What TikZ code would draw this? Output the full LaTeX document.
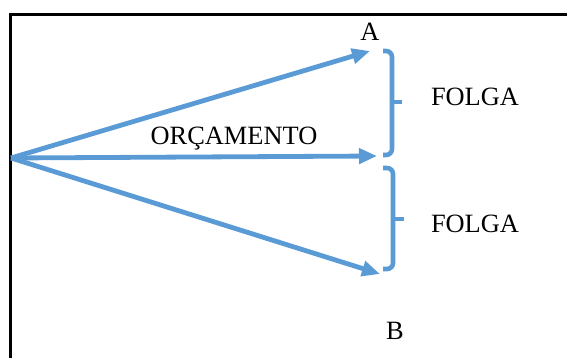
\documentclass[tikz,border=0pt]{standalone}
\usepackage{fontspec}
\setmainfont{Liberation Serif}
\usetikzlibrary{arrows.meta}

\begin{document}
\begin{tikzpicture}[x=0.5pt, y=-0.5pt,
    framestyle/.style={line width=1.5pt, black},
    arrowstyle/.style={-{Triangle[length=9pt, width=7.5pt]}, line width=2.4pt, budget},
    bracestyle/.style={line width=2.3pt, budget, rounded corners=3pt},
    labelstyle/.style={font=\fontsize{13.2}{15}\selectfont, inner sep=0pt}]
  \definecolor{budget}{RGB}{91,155,213}
  \useasboundingbox (0,0) rectangle (567,358);
  % frame
  \draw[framestyle] (10,358) -- (10,15) -- (567,15);
  % vectors
  \coordinate (O) at (11,158);
  \coordinate (PA) at (370,51);
  \coordinate (PM) at (377,156);
  \coordinate (PB) at (380,274);
  \draw[arrowstyle] (O) -- (PA);
  \draw[arrowstyle] (O) -- (PM);
  \draw[arrowstyle] (O) -- (PB);
  % braces
  \coordinate (U1) at (383,51);  \coordinate (T1) at (402,102); \coordinate (L1) at (383,155);
  \coordinate (U2) at (383,168); \coordinate (T2) at (404,219); \coordinate (L2) at (383,269);
  \draw[bracestyle] (U1) -| (392,102) |- (L1);
  \draw[bracestyle] (392,102) -- (T1);
  \draw[bracestyle] (U2) -| (393,219) |- (L2);
  \draw[bracestyle] (393,219) -- (T2);
  % labels
  \node[labelstyle] (lblA) at (370,32) {A};
  \node[labelstyle] (lblB) at (395,331) {B};
  \node[labelstyle] (orc) at (234,139) {ORÇAMENTO};
  \node[labelstyle] (folga1) at (475,97) {FOLGA};
  \node[labelstyle] (folga2) at (475,224) {FOLGA};
\end{tikzpicture}
\end{document}
